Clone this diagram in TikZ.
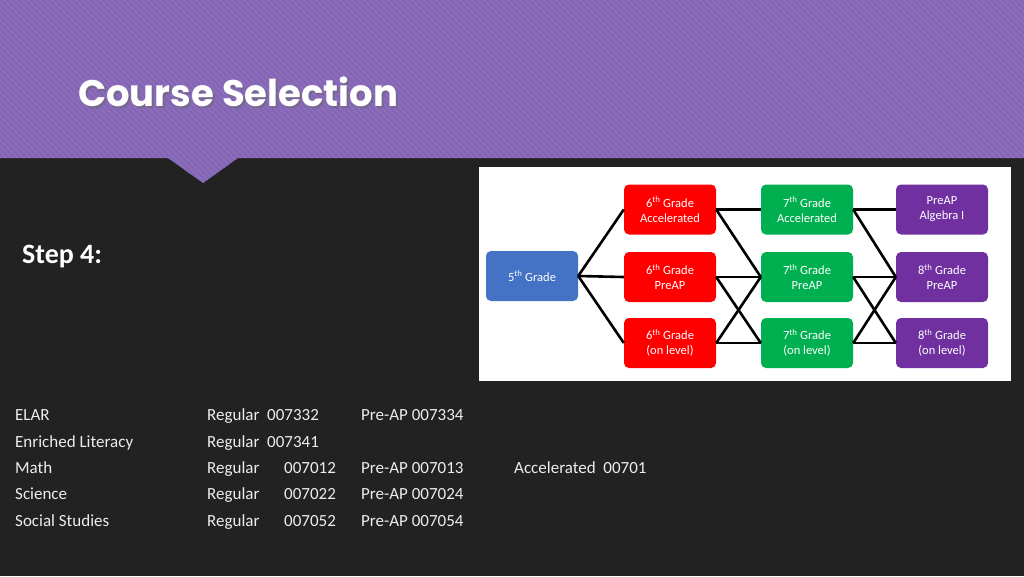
\documentclass[tikz,border=0pt]{standalone}
\usepackage{fontspec}
\setmainfont{Carlito}
\newfontfamily\titlefont{Poppins}
\definecolor{bgdark}{HTML}{222222}
\definecolor{hdr}{HTML}{8466B4}
\definecolor{hdrl}{HTML}{8E70BD}
\definecolor{gred}{HTML}{FF0000}
\definecolor{ggreen}{HTML}{00B050}
\definecolor{gpurple}{HTML}{7030A0}
\definecolor{gblue}{HTML}{4472C4}
\definecolor{txt}{HTML}{EDEDED}
\begin{document}
\begin{tikzpicture}[x=1pt,y=-1pt,
  gbox/.style={rounded corners=5pt,minimum width=92pt,minimum height=50pt,text=white,align=center,font=\fontsize{12.5}{15}\selectfont,inner sep=1pt},
  link/.style={line width=2.6pt,black},
  row/.style={anchor=base west,text=txt,font=\fontsize{17}{20}\selectfont,inner sep=0pt}]
\useasboundingbox (0,0) rectangle (1024,576);
\fill[bgdark] (0,0) rectangle (1024,576);
\begin{scope}
\clip (0,0) -- (1024,0) -- (1024,158) -- (238,158) -- (203,183) -- (168,158) -- (0,158) -- cycle;
\fill[hdr] (0,0) rectangle (1024,190);
\foreach \x in {-200,-194,...,1100} \draw[hdrl,line width=1.4pt] (\x,0) -- (\x+190,190);
\end{scope}
\node[anchor=base west,text=black!60,opacity=0.5,font=\titlefont\bfseries\fontsize{37}{40}\selectfont,inner sep=0pt] at (80,108) {Course Selection};
\node[anchor=base west,text=white,font=\titlefont\bfseries\fontsize{37}{40}\selectfont,inner sep=0pt] (title) at (78,106) {Course Selection};
\node[anchor=base west,text=white,font=\bfseries\fontsize{28}{32}\selectfont,inner sep=0pt] (step) at (22,263) {Step 4:};
\fill[white] (479,167) rectangle (1011,381);
\node[gbox,fill=gblue] (g5) at (532,276) {5\textsuperscript{th} Grade};
\node[gbox,fill=gred] (a6) at (670,209.5) {6\textsuperscript{th} Grade\\Accelerated};
\node[gbox,fill=gred] (p6) at (670,277) {6\textsuperscript{th} Grade\\PreAP};
\node[gbox,fill=gred] (o6) at (670,343) {6\textsuperscript{th} Grade\\(on level)};
\node[gbox,fill=ggreen] (a7) at (807,209.5) {7\textsuperscript{th} Grade\\Accelerated};
\node[gbox,fill=ggreen] (p7) at (807,277) {7\textsuperscript{th} Grade\\PreAP};
\node[gbox,fill=ggreen] (o7) at (807,343) {7\textsuperscript{th} Grade\\(on level)};
\node[gbox,fill=gpurple] (a8) at (942,209.5) {PreAP\\Algebra I};
\node[gbox,fill=gpurple] (p8) at (942,277) {8\textsuperscript{th} Grade\\PreAP};
\node[gbox,fill=gpurple] (o8) at (942,343) {8\textsuperscript{th} Grade\\(on level)};
\begin{scope}[on background layer/.try]
\end{scope}
\draw[link] (g5.east) -- (a6.west);
\draw[link] (g5.east) -- (p6.west);
\draw[link] (g5.east) -- (o6.west);
\draw[link] (a6.east) -- (a7.west);
\draw[link] (a6.east) -- (p7.west);
\draw[link] (p6.east) -- (p7.west);
\draw[link] (p6.east) -- (o7.west);
\draw[link] (o6.east) -- (p7.west);
\draw[link] (o6.east) -- (o7.west);
\draw[link] (a7.east) -- (a8.west);
\draw[link] (a7.east) -- (p8.west);
\draw[link] (p7.east) -- (p8.west);
\draw[link] (p7.east) -- (o8.west);
\draw[link] (o7.east) -- (p8.west);
\draw[link] (o7.east) -- (o8.west);
\node[row] (r1a) at (15,420) {ELAR};
\node[row] (r1b) at (207,420) {Regular\ \ 007332};
\node[row] (r1c) at (361,420) {Pre-AP 007334};
\node[row] (r2a) at (15,447) {Enriched Literacy};
\node[row] (r2b) at (207,447) {Regular\ \ 007341};
\node[row] (r3a) at (15,473) {Math};
\node[row] (r3b) at (207,473) {Regular};
\node[row] (r3n) at (284,473) {007012};
\node[row] (r3c) at (361,473) {Pre-AP 007013};
\node[row] (r3d) at (514,473) {Accelerated\ \ 00701};
\node[row] (r4a) at (15,499) {Science};
\node[row] (r4b) at (207,499) {Regular};
\node[row] (r4n) at (284,499) {007022};
\node[row] (r4c) at (361,499) {Pre-AP 007024};
\node[row] (r5a) at (15,526) {Social Studies};
\node[row] (r5b) at (207,526) {Regular};
\node[row] (r5n) at (284,526) {007052};
\node[row] (r5c) at (361,526) {Pre-AP 007054};
\end{tikzpicture}
\end{document}
